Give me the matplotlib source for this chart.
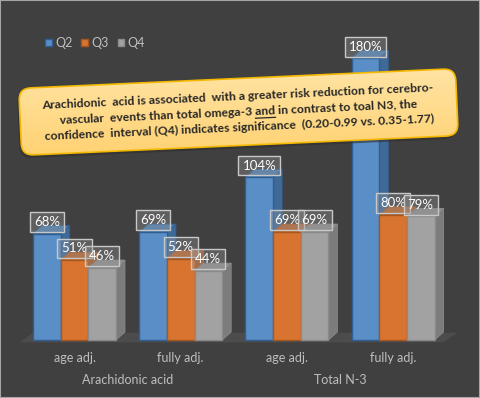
import numpy as np
import matplotlib
matplotlib.use('Agg')
import matplotlib.pyplot as plt
from matplotlib.patches import Polygon, FancyBboxPatch, Patch, Rectangle
from matplotlib.lines import Line2D
from matplotlib.transforms import Affine2D

# data
groups = ['Arachidonic acid', 'Total N-3']
adjust = ['age adj.', 'fully adj.', 'age adj.', 'fully adj.']
series = ['Q2', 'Q3', 'Q4']
q2 = [68, 69, 104, 180]
q3 = [51, 52, 69, 80]
q4 = [46, 44, 69, 79]
note_lines = ["Arachidonic  acid is associated  with a greater risk reduction for cerebro-",
              "vascular  events than total omega-3 and in contrast to toal N3, the",
              "confidence  interval (Q4) indicates significance  (0.20-0.99 vs. 0.35-1.77)"]
under_word = 'and'
under_prefix = 'vascular  events than total omega-3 '

front = ['#5a8ec6', '#d8742f', '#a2a2a2']
side = ['#3f6a98', '#a65a25', '#7c7c7c']
top = ['#4b7cb0', '#b9642a', '#8e8e8e']
edge = ['#2f5f92', '#a8561f', '#8a8a8a']
bg = '#404040'
txt = '#bfbfbf'

plt.rcParams['font.family'] = ['Lato', 'DejaVu Sans']

fig = plt.figure(figsize=(4.8, 3.98), dpi=100)
fig.patch.set_facecolor(bg)
ax = fig.add_axes([0, 0.1221, 1, 0.810])
ax.set_facecolor('none')
ax.set_xlim(-0.7015, 3.818)
ax.set_ylim(-6, 200)
for s in ax.spines.values():
    s.set_visible(False)
ax.set_yticks([])

w = 0.26     # bar width
dx = 0.085   # depth offset in x
dy = 5.1     # depth offset in y

# floor
ax.add_patch(Polygon([(-0.513, -1.5), (3.47, -1.5), (3.61, 4.6), (-0.39, 4.6)],
                     closed=True, fc='#4c4c4c', ec='none', zorder=1))

x = np.arange(len(adjust))
vals = [q2, q3, q4]
z = 2
for g in range(len(adjust)):
    for k in range(3):
        xc = x[g] + (k - 1) * w
        h = vals[k][g]
        l, r = xc - w / 2, xc + w / 2
        ax.add_patch(Polygon([(r, 0), (r + dx, dy), (r + dx, h + dy), (r, h)],
                             fc=side[k], ec=edge[k], lw=0.6, zorder=z))
        ax.add_patch(Polygon([(l, h), (l + dx, h + dy), (r + dx, h + dy), (r, h)],
                             fc=top[k], ec=edge[k], lw=0.6, zorder=z))
        ax.bar(xc, h, w, color=front[k], edgecolor=edge[k], lw=1, zorder=z + 0.5)
        z += 1
for g in range(len(adjust)):
    for k in range(3):
        xc = x[g] + (k - 1) * w
        ax.text(xc, vals[k][g] + 7.5, '%d%%' % vals[k][g], ha='center', va='center',
                color='white', fontsize=9.5, zorder=50,
                bbox=dict(boxstyle='square,pad=0.3', fc=(0.6, 0.6, 0.6, 0.35),
                          ec='#c8c8c8', lw=1))

ax.set_xticks(x)
ax.set_xticklabels(adjust, color=txt, fontsize=9)
ax.tick_params(axis='x', length=0, pad=2)
for i, gname in enumerate(groups):
    ax.text(x[2 * i] + 0.5, -0.095, gname, transform=ax.get_xaxis_transform(),
            ha='center', va='center', color=txt, fontsize=9)

# legend
handles = [Patch(fc=front[k], ec=edge[k], label=series[k]) for k in range(3)]
fig.legend(handles=handles, loc='center left', bbox_to_anchor=(34 / 480, 1 - 43 / 398),
           ncol=3, frameon=False, handlelength=0.55, handleheight=0.55, handletextpad=0.25,
           columnspacing=0.7, labelcolor=txt, fontsize=9)

# callout box, drawn in pixel coordinates on an overlay axes
ov = fig.add_axes([0, 0, 1, 1], zorder=5)
ov.set_xlim(0, 480)
ov.set_ylim(0, 398)
ov.axis('off')
cx, cy, bw, bh, ang = 238.5, 398 - 112, 437, 67, 2.6
rot = Affine2D().rotate_deg_around(cx, cy, ang) + ov.transData
shadow = FancyBboxPatch((cx - bw / 2 - 2, cy - bh / 2 - 3), bw, bh,
                        boxstyle='round,pad=0,rounding_size=12',
                        fc='#2e2e2e', ec='none', alpha=0.6, transform=rot, zorder=1)
ov.add_patch(shadow)
box = FancyBboxPatch((cx - bw / 2, cy - bh / 2), bw, bh,
                     boxstyle='round,pad=0,rounding_size=12',
                     fc='none', ec='#f5b800', lw=1.2, transform=rot, zorder=3)
ov.add_patch(box)
grad = np.linspace(0, 1, 100).reshape(-1, 1)
cmap = matplotlib.colors.LinearSegmentedColormap.from_list('g', ['#ffcf6a', '#ffe7ad'])
im = ov.imshow(grad, cmap=cmap, aspect='auto', origin='lower',
               extent=(cx - bw / 2 - 5, cx + bw / 2 + 5, cy - bh / 2 - 25, cy + bh / 2 + 25),
               zorder=2)
im.set_clip_path(box)

fs = 8.7
ls = 15.5
for i, line in enumerate(note_lines):
    ov.text(cx, cy + (1 - i) * ls, line, ha='center', va='center', rotation=ang,
            rotation_mode='anchor', fontsize=fs, fontweight='bold', color='#262626',
            transform=rot, zorder=4)

# underline for the emphasised word
rend = fig.canvas.get_renderer()
def text_w(s):
    t = fig.text(0, 0, s, fontsize=fs, fontweight='bold')
    wpx = t.get_window_extent(rend).width
    t.remove()
    return wpx
W = text_w(note_lines[1])
x_end = text_w(under_prefix + under_word)
x_start = x_end - text_w(under_word)
uy = cy - 7
ov.add_line(Line2D([cx - W / 2 + x_start, cx - W / 2 + x_end], [uy, uy],
                   color='#262626', lw=0.9, transform=rot, zorder=4))

fig.patches.append(Rectangle((0, 0), 1, 1, transform=fig.transFigure, fill=False,
                             ec='#a6a6a6', lw=1.5, zorder=20))

fig.savefig('out.png', dpi=100, facecolor=bg)
